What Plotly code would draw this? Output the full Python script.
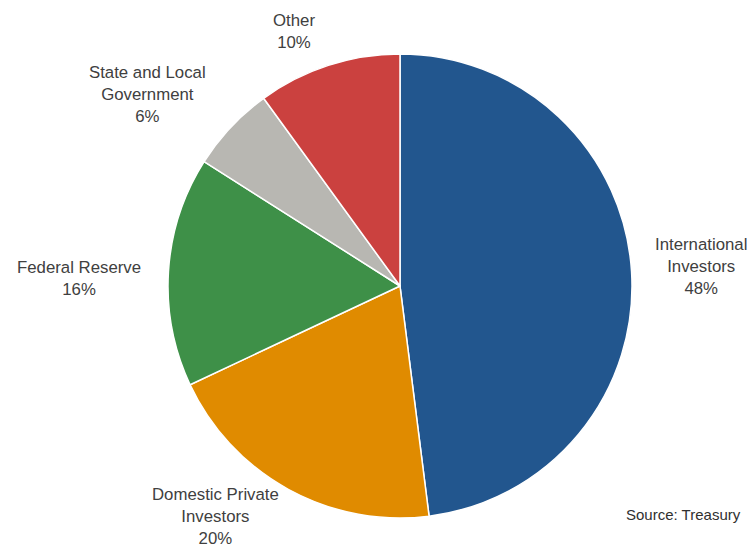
import plotly.graph_objects as go

categories = ["International Investors", "Domestic Private Investors", "Federal Reserve",
              "State and Local Government", "Other"]
values = [48, 20, 16, 6, 10]
label_texts = ["International<br>Investors<br>48%", "Domestic Private<br>Investors<br>20%",
               "Federal Reserve<br>16%", "State and Local<br>Government<br>6%", "Other<br>10%"]
colors = ["#22568E", "#E08B00", "#3E9048", "#B8B7B2", "#CB413F"]

W, H = 751, 553
cx, cy, r = 400, 286, 232

fig = go.Figure(go.Pie(
    labels=categories, values=values, sort=False, direction="clockwise", rotation=0,
    marker=dict(colors=colors, line=dict(color="white", width=1.5)),
    textinfo="none", hoverinfo="label+percent", showlegend=False,
    domain=dict(x=[(cx - r) / W, (cx + r) / W], y=[1 - (cy + r) / H, 1 - (cy - r) / H]),
))

# label centre positions (pixels)
label_pos = [(701, 266), (215, 516), (79, 278), (147, 95), (294, 32)]
font = dict(family="Liberation Sans, Arial, sans-serif", size=16.8, color="#404040")
for txt, (px, py) in zip(label_texts, label_pos):
    fig.add_annotation(x=px / W, y=1 - py / H, xref="paper", yref="paper", text=txt,
                       showarrow=False, font=font, align="center",
                       xanchor="center", yanchor="middle")

fig.add_annotation(x=743 / W, y=1 - 514 / H, xref="paper", yref="paper",
                   text="Source: Treasury", showarrow=False,
                   font=dict(family="Liberation Sans, Arial, sans-serif", size=15, color="#303030"),
                   xanchor="right", yanchor="middle")

fig.update_layout(width=W, height=H, margin=dict(l=0, r=0, t=0, b=0),
                  paper_bgcolor="white", plot_bgcolor="white")
fig.write_html("out.html")
